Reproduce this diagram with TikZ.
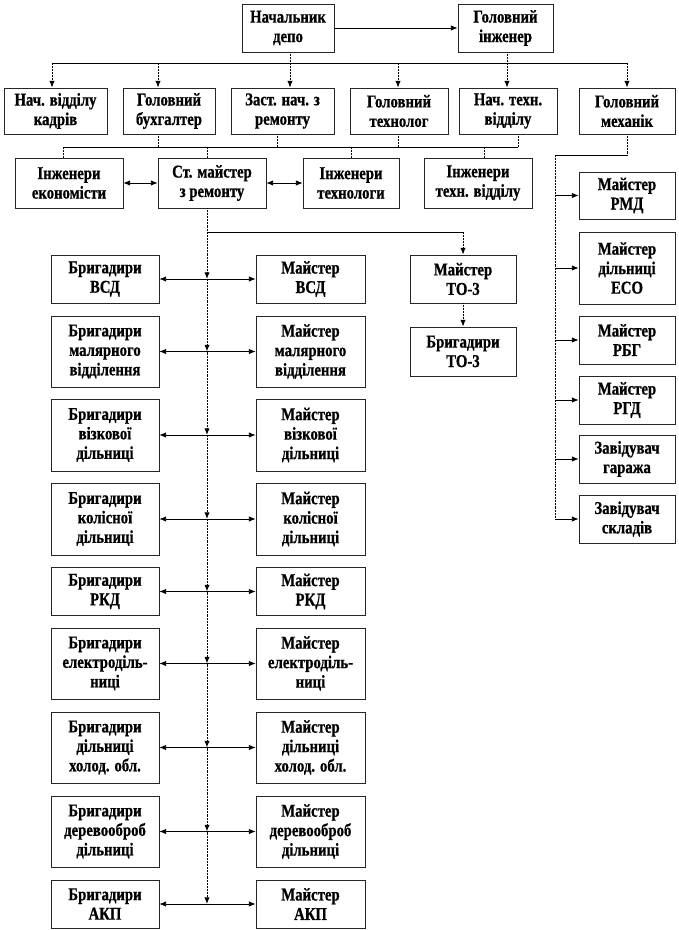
\documentclass[tikz,border=0pt]{standalone}
\usepackage{fontspec}
\setmainfont{Liberation Serif}
\newfontfamily\orgfont[FakeStretch=0.82,FakeBold=0.8]{Liberation Serif}
\usetikzlibrary{arrows.meta}
\tikzset{post/.style={draw=black!85,line width=0.6pt,align=center,inner sep=1pt,
   font=\orgfont\bfseries\fontsize{13.5}{14.6}\selectfont},
 sz/.style 2 args={minimum width=#1*0.75pt,minimum height=#2*0.75pt},
 hlink/.style={line width=0.6pt},
 vlink/.style={line width=0.7pt,dash pattern=on 0.6pt off 0.5pt},
 arr/.style={-{Latex[length=5pt,width=4pt]}},
 twoway/.style={{Latex[length=5pt,width=4pt]}-{Latex[length=5pt,width=4pt]}},
 }

\begin{document}
\begin{tikzpicture}[x=0.75pt,y=-0.75pt]
        \useasboundingbox (0,0) rectangle (678,930);
        \node[post,sz={92}{48}] (nach) at (288,28) {Начальник\\депо};
        \node[post,sz={95}{48}] (golinzh) at (505.5,28) {Головний\\інженер};
        \node[post,sz={103}{46}] (kadry) at (55.5,111) {Нач. відділу\\кадрів};
        \node[post,sz={92}{46}] (buh) at (169,111) {Головний\\бухгалтер};
        \node[post,sz={103}{46}] (zast) at (282.5,111) {Заст. нач. з\\ремонту};
        \node[post,sz={98}{46}] (tehnolog) at (399,111) {Головний\\технолог};
        \node[post,sz={98}{46}] (nachteh) at (508,111) {Нач. техн.\\відділу};
        \node[post,sz={96}{46}] (mehanik) at (627,111) {Головний\\механік};
        \node[post,sz={108}{50}] (ekon) at (69,183) {Інженери\\економісти};
        \node[post,sz={108}{50}] (stmaster) at (212,183) {Ст. майстер\\з ремонту};
        \node[post,sz={96}{50}] (tehnologi) at (351,183) {Інженери\\технологи};
        \node[post,sz={108}{50}] (tehviddil) at (478,183) {Інженери\\техн. відділу};
        \node[post,sz={106}{48}] (mto) at (463,279) {Майстер\\ТО-3};
        \node[post,sz={106}{49}] (bto) at (463,351.5) {Бригадири\\ТО-3};
        \node[post,sz={108}{48}] (b1) at (105,279) {Бригадири\\ВСД};
        \node[post,sz={109}{48}] (m1) at (310.5,279) {Майстер\\ВСД};
        \node[post,sz={108}{71}] (b2) at (105,351.5) {Бригадири\\малярного\\відділення};
        \node[post,sz={109}{71}] (m2) at (310.5,351.5) {Майстер\\малярного\\відділення};
        \node[post,sz={108}{72}] (b3) at (105,435) {Бригадири\\візкової\\дільниці};
        \node[post,sz={109}{72}] (m3) at (310.5,435) {Майстер\\візкової\\дільниці};
        \node[post,sz={108}{72}] (b4) at (105,519) {Бригадири\\колісної\\дільниці};
        \node[post,sz={109}{72}] (m4) at (310.5,519) {Майстер\\колісної\\дільниці};
        \node[post,sz={108}{48}] (b5) at (105,591.5) {Бригадири\\РКД};
        \node[post,sz={109}{48}] (m5) at (310.5,591.5) {Майстер\\РКД};
        \node[post,sz={108}{71}] (b6) at (105,663.5) {Бригадири\\електроділь-\\ниці};
        \node[post,sz={109}{71}] (m6) at (310.5,663.5) {Майстер\\електроділь-\\ниці};
        \node[post,sz={108}{71}] (b7) at (105,747.5) {Бригадири\\дільниці\\холод. обл.};
        \node[post,sz={109}{71}] (m7) at (310.5,747.5) {Майстер\\дільниці\\холод. обл.};
        \node[post,sz={108}{71}] (b8) at (105,831.5) {Бригадири\\деревооброб\\дільниці};
        \node[post,sz={109}{71}] (m8) at (310.5,831.5) {Майстер\\деревооброб\\дільниці};
        \node[post,sz={108}{48}] (b9) at (105,904) {Бригадири\\АКП};
        \node[post,sz={109}{48}] (m9) at (310.5,904) {Майстер\\АКП};
        \node[post,sz={96}{47}] (rmd) at (627,195.5) {Майстер\\РМД};
        \node[post,sz={96}{72}] (eso) at (627,268) {Майстер\\дільниці\\ЕСО};
        \node[post,sz={96}{48}] (rbg) at (627,340) {Майстер\\РБГ};
        \node[post,sz={96}{48}] (rgd) at (627,400) {Майстер\\РГД};
        \node[post,sz={96}{48}] (garazh) at (627,459) {Завідувач\\гаража};
        \node[post,sz={96}{48}] (sklad) at (627,519) {Завідувач\\складів};
        \coordinate (t1) at (52,63);
        \coordinate (t2) at (158,63);
        \coordinate (t3) at (290,63);
        \coordinate (t4) at (398,63);
        \coordinate (t5) at (507,63);
        \coordinate (t6) at (627,63);
        \coordinate (u1) at (63,147);
        \coordinate (u2) at (207,147);
        \coordinate (u3) at (351,147);
        \coordinate (u4) at (484,147);
        \coordinate (v1) at (158,147);
        \coordinate (v2) at (277,147);
        \coordinate (v3) at (398,147);
        \coordinate (v4) at (518,147);
        \coordinate (j0) at (207,232);
        \coordinate (k0) at (463,232);
        \coordinate (h0) at (627,155);
        \coordinate (h1) at (555,155);
        \draw[hlink,arr] (nach) -- (golinzh);
        \draw[hlink] (t1) -- (t6);
        \draw[vlink] (nach.south -| t3) -- (t3);
        \draw[vlink] (golinzh.south -| t5) -- (t5);
        \foreach \p/\q in {t1/kadry,t2/buh,t3/zast,t4/tehnolog,t5/nachteh,t6/mehanik}
            \draw[vlink,arr] (\p) -- (\p |- \q.north);
        \draw[hlink] (u1) -- (v4);
        \foreach \p/\q in {v1/buh,v2/zast,v3/tehnolog,v4/nachteh}
            \draw[vlink] (\q.south -| \p) -- (\p);
        \foreach \p/\q in {u1/ekon,u2/stmaster,u3/tehnologi,u4/tehviddil}
            \draw[vlink] (\p) -- (\p |- \q.north);
        \draw[hlink,twoway] (ekon) -- (stmaster);
        \draw[hlink,twoway] (stmaster) -- (tehnologi);
        \draw[vlink] (stmaster.south -| j0) -- (j0);
        \draw[hlink] (j0) -- (k0);
        \draw[vlink,arr] (k0) -- (k0 |- mto.north);
        \draw[vlink,arr] (mto) -- (bto);
        \draw[vlink,arr] (j0) -- (j0 |- b1);
        \foreach \i/\n in {1/2,2/3,3/4,4/5,5/6,6/7,7/8,8/9}
            \draw[vlink,arr] (j0 |- b\i) -- (j0 |- b\n);
        \foreach \i in {1,...,9}
            \draw[hlink,twoway] (b\i) -- (m\i);
        \draw[vlink] (mehanik.south) -- (h0);
        \draw[hlink] (h0) -- (h1);
        \draw[vlink] (h1) -- (h1 |- sklad);
        \foreach \q in {rmd,eso,rbg,rgd,garazh,sklad}
            \draw[hlink,arr] (h1 |- \q) -- (\q.west);
    \end{tikzpicture}
\end{document}
